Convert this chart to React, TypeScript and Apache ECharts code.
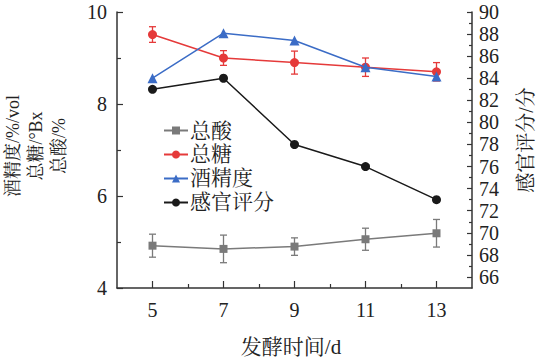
import React, { useEffect, useRef } from "react";
import * as echarts from "echarts";

const days = [5, 7, 9, 11, 13];
const acid = [4.92, 4.85, 4.9, 5.06, 5.19];
const acidErr = [0.25, 0.3, 0.19, 0.24, 0.3];
const sugar = [9.51, 9.0, 8.9, 8.8, 8.7];
const sugarErr = [0.17, 0.16, 0.25, 0.2, 0.2];
const alcohol = [8.56, 9.54, 9.38, 8.8, 8.6];
const sensory = [83, 84, 78, 76, 73];

const leftLabels = [4, 6, 8, 10];
const rightLabels = [66, 68, 70, 72, 74, 76, 78, 80, 82, 84, 86, 88, 90];
const rightMinor = [67, 69, 71, 73, 75, 77, 79, 81, 83, 85, 87, 89];
const xMinor = [6, 8, 10, 12];

const FONT = "'Liberation Serif', 'Times New Roman', 'Noto Serif CJK SC', 'Noto Sans CJK SC', serif";
const AX = "#333333";
const GRAY = "#7a7a7a";
const RED = "#e53a3a";
const BLUE = "#3b6cc6";
const BLACK = "#1a1a1a";

function errSeries(vals: number[], errs: number[], color: string) {
  return {
    type: "custom",
    xAxisIndex: 0,
    yAxisIndex: 0,
    silent: true,
    z: 1,
    data: days.map((d, i) => [d, vals[i] - errs[i], vals[i] + errs[i]]),
    renderItem: (params: any, api: any) => {
      const lo = api.coord([api.value(0), api.value(1)]);
      const hi = api.coord([api.value(0), api.value(2)]);
      const w = 3.5;
      const st = { stroke: color, lineWidth: 1.3 };
      return {
        type: "group",
        children: [
          { type: "line", shape: { x1: lo[0], y1: lo[1], x2: hi[0], y2: hi[1] }, style: st },
          { type: "line", shape: { x1: lo[0] - w, y1: lo[1], x2: lo[0] + w, y2: lo[1] }, style: st },
          { type: "line", shape: { x1: hi[0] - w, y1: hi[1], x2: hi[0] + w, y2: hi[1] }, style: st },
        ],
      };
    },
  };
}

export default function App() {
  const ref = useRef<HTMLDivElement>(null);
  useEffect(() => {
    const chart = echarts.init(ref.current!, null, { renderer: "svg" });
    const label = { fontFamily: FONT, fontSize: 20, color: "#222" };
    chart.setOption({
      animation: false,
      backgroundColor: "#ffffff",
      textStyle: { fontFamily: FONT },
      grid: { left: 117, right: 68, top: 12, bottom: 74 },
      legend: {
        orient: "vertical",
        left: 158,
        top: 115,
        itemWidth: 24,
        itemHeight: 10,
        itemGap: 3,
        data: ["总酸", "总糖", "酒精度", "感官评分"],
        textStyle: { fontFamily: FONT, fontSize: 21, color: "#222", padding: [0, 0, 0, -3] },
      },
      xAxis: [
        {
          type: "value",
          min: 4,
          max: 14,
          interval: 1,
          splitLine: { show: false },
          axisLine: { show: true, lineStyle: { color: AX, width: 1.5 } },
          axisTick: { show: true, inside: true, length: 7, customValues: days, lineStyle: { color: AX, width: 1.2 } },
          axisLabel: { ...label, margin: 12, customValues: days },
        },
        {
          type: "value",
          position: "bottom",
          min: 4,
          max: 14,
          interval: 1,
          splitLine: { show: false },
          axisLine: { show: false },
          axisTick: { show: true, inside: true, length: 4, customValues: xMinor, lineStyle: { color: AX, width: 1.2 } },
          axisLabel: { show: false },
        },
      ],
      yAxis: [
        {
          type: "value",
          position: "left",
          min: 4,
          max: 10,
          interval: 2,
          splitLine: { show: false },
          axisLine: { show: true, lineStyle: { color: AX, width: 1.5 } },
          axisTick: { show: true, inside: true, length: 6, lineStyle: { color: AX, width: 1.2 } },
          minorTick: { show: true, splitNumber: 2, length: 4, lineStyle: { color: AX, width: 1.2 } },
          axisLabel: { ...label, margin: 10, customValues: leftLabels },
        },
        {
          type: "value",
          position: "right",
          min: 65,
          max: 90,
          interval: 1,
          splitLine: { show: false },
          axisLine: { show: true, lineStyle: { color: AX, width: 1.5 } },
          axisTick: { show: true, inside: true, length: 5, customValues: rightLabels, lineStyle: { color: AX, width: 1.2 } },
          axisLabel: { ...label, margin: 7, customValues: rightLabels },
        },
        {
          type: "value",
          position: "right",
          min: 65,
          max: 90,
          interval: 1,
          splitLine: { show: false },
          axisLine: { show: false },
          axisTick: { show: true, inside: true, length: 3, customValues: rightMinor, lineStyle: { color: AX, width: 1.2 } },
          axisLabel: { show: false },
        },
      ],
      series: [
        errSeries(acid, acidErr, GRAY),
        errSeries(sugar, sugarErr, RED),
        {
          name: "总酸",
          type: "line",
          xAxisIndex: 0,
          yAxisIndex: 0,
          data: days.map((d, i) => [d, acid[i]]),
          symbol: "rect",
          symbolSize: 8,
          z: 3,
          lineStyle: { color: GRAY, width: 1.5 },
          itemStyle: { color: GRAY },
        },
        {
          name: "总糖",
          type: "line",
          xAxisIndex: 0,
          yAxisIndex: 0,
          data: days.map((d, i) => [d, sugar[i]]),
          symbol: "circle",
          symbolSize: 9,
          z: 3,
          lineStyle: { color: RED, width: 1.5 },
          itemStyle: { color: RED },
        },
        {
          name: "酒精度",
          type: "line",
          xAxisIndex: 0,
          yAxisIndex: 0,
          data: days.map((d, i) => [d, alcohol[i]]),
          symbol: "triangle",
          symbolSize: 10,
          z: 4,
          lineStyle: { color: BLUE, width: 1.5 },
          itemStyle: { color: BLUE },
        },
        {
          name: "感官评分",
          type: "line",
          xAxisIndex: 0,
          yAxisIndex: 1,
          data: days.map((d, i) => [d, sensory[i]]),
          symbol: "circle",
          symbolSize: 9,
          z: 4,
          lineStyle: { color: BLACK, width: 1.5 },
          itemStyle: { color: BLACK },
        },
      ],
      graphic: [
        { type: "text", x: 13, y: 146, rotation: Math.PI / 2, style: { text: "酒精度/%/vol", font: `18px ${FONT}`, fill: "#222", textAlign: "center", textVerticalAlign: "middle" } },
        { type: "text", x: 36, y: 146, rotation: Math.PI / 2, style: { text: "总糖/°Bx", font: `18px ${FONT}`, fill: "#222", textAlign: "center", textVerticalAlign: "middle" } },
        { type: "text", x: 59, y: 146, rotation: Math.PI / 2, style: { text: "总酸/%", font: `18px ${FONT}`, fill: "#222", textAlign: "center", textVerticalAlign: "middle" } },
        { type: "text", x: 526, y: 140, rotation: Math.PI / 2, style: { text: "感官评分/分", font: `20px ${FONT}`, fill: "#222", textAlign: "center", textVerticalAlign: "middle" } },
        { type: "text", x: 291, y: 347, style: { text: "发酵时间/d", font: `21px ${FONT}`, fill: "#222", textAlign: "center", textVerticalAlign: "middle" } },
      ],
    });
    return () => chart.dispose();
  }, []);
  return <div ref={ref} style={{ width: 540, height: 362, position: "absolute", left: 0, top: 0 }} />;
}
